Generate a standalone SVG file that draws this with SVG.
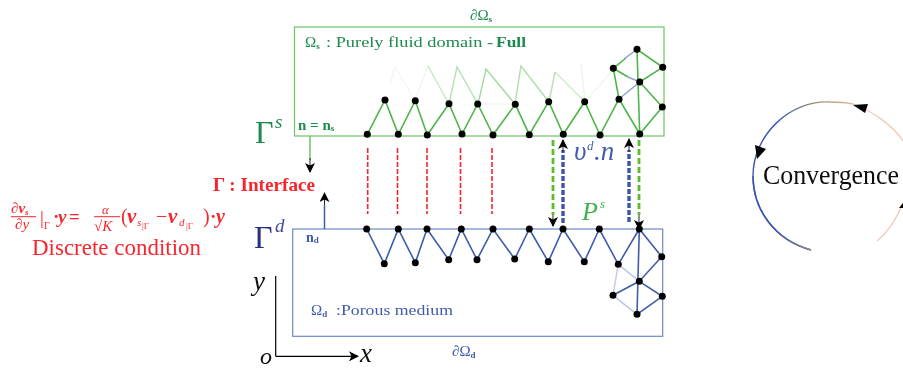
<svg xmlns="http://www.w3.org/2000/svg" width="903" height="370" viewBox="0 0 903 370">
<style>
text{font-family:"Liberation Serif","DejaVu Serif",serif}
.dot{fill:#000}
.gm{fill:none;stroke:#4db549;stroke-width:1.6}
.bm{fill:none;stroke:#3f5cab;stroke-width:1.6}
.red{stroke:#f0252f;stroke-width:1.6;stroke-dasharray:5 2;fill:none}
.gd{stroke:#5dbb2f;stroke-width:2.8;stroke-dasharray:6 3;fill:none}
.bd{stroke:#3a55ad;stroke-width:3.4;stroke-dasharray:5 2;fill:none}
.dg{fill:#1f8a50}.db{fill:#3f5cab}.r{fill:#f5282f}
</style>
<defs>
<filter id="soft" x="0" y="0" width="100%" height="100%"><feGaussianBlur stdDeviation="0.35"/></filter>
<linearGradient id="arcTop" gradientUnits="userSpaceOnUse" x1="775" y1="125" x2="853" y2="104"><stop offset="0" stop-color="#3f55b0"/><stop offset=".55" stop-color="#8a9470"/><stop offset="1" stop-color="#e8b59d"/></linearGradient>
<linearGradient id="arcBot" gradientUnits="userSpaceOnUse" x1="775" y1="225" x2="811" y2="250"><stop offset="0" stop-color="#3f55b0"/><stop offset="1" stop-color="#8a8a80"/></linearGradient>
<marker id="ah" viewBox="0 0 10 10" refX="9" refY="5" markerWidth="12" markerHeight="10" markerUnits="userSpaceOnUse" orient="auto"><path d="M0 0L10 5L0 10L2.5 5Z" fill="#000"/></marker>
</defs>
<g filter="url(#soft)">
<g id="domain-fluid"><rect x="294.5" y="27" width="369.5" height="109" fill="none" stroke="#6cc565" stroke-width="1.2"/>
<text x="470" y="20" font-size="15" class="dg"><tspan font-style="italic">∂</tspan>Ω<tspan font-size="9" dy="2" font-weight="bold">s</tspan></text>
<text x="305" y="47" font-size="15" class="dg">Ω<tspan font-size="9" dy="2" font-weight="bold">s</tspan></text>
<text x="326" y="47" font-size="15.5" class="dg" textLength="167" lengthAdjust="spacingAndGlyphs">: Purely fluid domain -</text>
<text x="496" y="47" font-size="15.5" font-weight="bold" class="dg" textLength="30" lengthAdjust="spacingAndGlyphs">Full</text>
<text x="298" y="130" font-size="15" font-weight="bold" class="dg">n = n<tspan font-size="9" dy="1">s</tspan></text>
<text x="255" y="143" font-size="32" class="dg">Γ</text><text x="275" y="128" font-size="19" font-style="italic" class="dg">s</text></g>
<g id="domain-porous"><rect x="292.7" y="229" width="370" height="107.3" fill="none" stroke="#6f88c8" stroke-width="1.2"/>
<text x="306" y="242" font-size="14" font-weight="bold" class="db">n<tspan font-size="9" dy="1">d</tspan></text>
<text x="311" y="315" font-size="15" class="db">Ω<tspan font-size="9" dy="2" font-weight="bold">d</tspan></text>
<text x="336" y="315" font-size="15.5" class="db" textLength="117" lengthAdjust="spacingAndGlyphs">:Porous medium</text>
<text x="452" y="356" font-size="15" class="db"><tspan font-style="italic">∂</tspan>Ω<tspan font-size="9" dy="2" font-weight="bold">d</tspan></text>
<text x="254" y="248" font-size="32" fill="#2b2f7f">Γ</text><text x="275" y="232" font-size="19" font-style="italic" fill="#3f4a9a">d</text></g>
<g id="connectors">
<g id="mesh-fluid-faded" fill="none" stroke="#6cc565" stroke-width="1.4">
<path d="M390 84L395 67M395 67L412 95" stroke-opacity=".1"/>
<path d="M415 100L428 66" stroke-opacity=".12"/>
<path d="M428 66L449 104" stroke-opacity=".4"/>
<path d="M449 104L457 67L478 104" stroke-opacity=".5"/>
<path d="M478 104L486 69L515 104" stroke-opacity=".65"/>
<path d="M515 104L521 66L549 102" stroke-opacity=".55"/>
<path d="M549 102L555 72" stroke-opacity=".5"/>
<path d="M555 72L585 102" stroke-opacity=".35"/>
<path d="M585 102L581 64" stroke-opacity=".15"/>
<path d="M585 102L613 70" stroke-opacity=".12"/>
<path d="M478 104L515 104" stroke-opacity=".1"/>
</g>
<path class="gm" d="M367.3 134.3L385 100L398.3 134.3L415.3 100.7L427.3 135L449 103.7L462 134L477.7 104L493 135L515.3 104.3L529.3 134.7L548.7 101.7L563.3 134.3L584.7 101.7L600 135L619 99L639.7 134L662.3 107L639.7 82L662.7 67.3L637 49.3L639.7 134M626 58L613.3 68.3L619 99M613.3 68.3L628 77"/>
<path d="M637 49.3L624 59M628 77L639.7 82M619 99L639.7 82" fill="none" stroke="#8ea3cf" stroke-width="1.5"/>
<path class="bm" d="M366.7 229L384.3 263.7L398.3 229L415.3 262.7L427 229L448.7 259.7L461.3 229L477 259.7L493 229L514.7 259L529.3 229L548.3 261.7L563 229L584.3 261.7L599.3 229L618.3 264.3L639.3 229L661.7 256.7L639.3 281.3L662.3 296.3L637 314.3L639.3 229M639.3 281.3L613 295.3"/>
<path d="M618.3 264.3L613 295.3" fill="none" stroke="#c5cdea" stroke-width="1.5"/>
<path d="M618.3 264.3L639.3 281.3M613 295.3L637 314.3" fill="none" stroke="#bcc6e4" stroke-width="1.5"/>
<path class="red" d="M367.7 148V214M397.5 148V214M427 148V214M460.5 148V214M492 148V214"/>
<path class="gd" d="M553 140V215"/><path class="gd" d="M639 140V215"/>
<path d="M553 215V226" stroke="#222" stroke-width="1" marker-end="url(#ah)"/>
<path d="M639 215V229" stroke="#222" stroke-width="1" marker-end="url(#ah)"/>
<path class="bd" d="M563 223V150"/><path class="bd" d="M629 222V150"/>
<path d="M563 152V140" stroke="#222" stroke-width="1" marker-end="url(#ah)"/>
<path d="M629 152V139" stroke="#222" stroke-width="1" marker-end="url(#ah)"/>
<path d="M310 136V160" stroke="#6cc565" stroke-width="1.5"/><path d="M310 158V172" stroke="#222" stroke-width="1" marker-end="url(#ah)"/>
<path d="M324.5 229V205" stroke="#3f5cab" stroke-width="1.5"/><path d="M324.5 205V193" stroke="#222" stroke-width="1" marker-end="url(#ah)"/>
<path d="M275.7 356.3V276M275.7 356.3H358" fill="none" stroke="#000" stroke-width="1.2" marker-end="url(#ah)"/>
<path d="M811 250C775 240 753 210 753 176C753 135 790 100 830 102C840 102 848 103 853 104" fill="none" stroke="url(#arcTop)" stroke-width="1.4"/>
<path d="M811 250C775 240 753 210 753 176" fill="none" stroke="url(#arcBot)" stroke-width="1.4"/>
<path d="M853 104C875 112 895 128 903 141M877 241C888 232 897 218 903 203" fill="none" stroke="#f0c9b5" stroke-width="1.3"/>
<path d="M766 149L757 159L755 145Z M853 105L868 104L865 113Z M903 203L899 208L903 208Z" fill="#000"/>
</g>
<g id="nodes-fluid" class="dot">
<circle cx="367.3" cy="134.3" r="3.5"/><circle cx="398.3" cy="134.3" r="3.5"/><circle cx="427.3" cy="135" r="3.5"/><circle cx="462" cy="134" r="3.5"/><circle cx="493" cy="135" r="3.5"/><circle cx="529.3" cy="134.7" r="3.5"/><circle cx="563.3" cy="134.3" r="3.5"/><circle cx="600" cy="135" r="3.5"/><circle cx="639.7" cy="134" r="3.5"/>
<circle cx="385" cy="100" r="3.5"/><circle cx="415.3" cy="100.7" r="3.5"/><circle cx="449" cy="103.7" r="3.5"/><circle cx="477.7" cy="104" r="3.5"/><circle cx="515.3" cy="104.3" r="3.5"/><circle cx="548.7" cy="101.7" r="3.5"/><circle cx="584.7" cy="101.7" r="3.5"/><circle cx="619" cy="99.3" r="3.5"/>
<circle cx="637" cy="49.3" r="3.5"/><circle cx="613.3" cy="68.3" r="3.5"/><circle cx="662.7" cy="67.3" r="3.5"/><circle cx="639.7" cy="82" r="3.5"/><circle cx="662.3" cy="107" r="3.5"/></g>
<g id="nodes-porous" class="dot">
<circle cx="366.7" cy="229" r="3.5"/><circle cx="398.3" cy="229" r="3.5"/><circle cx="427" cy="229" r="3.5"/><circle cx="461.3" cy="229" r="3.5"/><circle cx="493" cy="229" r="3.5"/><circle cx="529.3" cy="229" r="3.5"/><circle cx="563" cy="229" r="3.5"/><circle cx="599.3" cy="229" r="3.5"/><circle cx="639.3" cy="229" r="3.5"/>
<circle cx="384.3" cy="263.7" r="3.5"/><circle cx="415.3" cy="262.7" r="3.5"/><circle cx="448.7" cy="259.7" r="3.5"/><circle cx="477" cy="259.7" r="3.5"/><circle cx="514.7" cy="259" r="3.5"/><circle cx="548.3" cy="261.7" r="3.5"/><circle cx="584.3" cy="261.7" r="3.5"/><circle cx="618.3" cy="264.3" r="3.5"/>
<circle cx="661.7" cy="256.7" r="3.5"/><circle cx="639.3" cy="281.3" r="3.5"/><circle cx="613" cy="295.3" r="3.5"/><circle cx="662.3" cy="296.3" r="3.5"/><circle cx="637" cy="314.3" r="3.5"/></g>
<g id="labels-flow">
<text x="574" y="160" font-size="27" font-style="italic" fill="#3f5cab">υ</text><text x="587" y="150" font-size="13" font-style="italic" fill="#3f5cab">d</text><text x="594" y="160" font-size="27" font-style="italic" fill="#3f5cab">.n</text>
<text x="582" y="220" font-size="26" font-style="italic" fill="#3cb34a">P</text><text x="600" y="208" font-size="13" font-style="italic" fill="#3cb34a">s</text>
</g>
<g id="interface">
<text x="213" y="191" font-size="19" font-weight="bold" class="r" textLength="102" lengthAdjust="spacingAndGlyphs">Γ : Interface</text>
</g>
<g id="condition" class="r">
<text x="11" y="213" font-size="15" font-style="italic" font-weight="bold">∂v<tspan font-size="9" dy="2">s</tspan></text>
<path d="M11 216.7H36" stroke="#f5282f" stroke-width="1"/>
<text x="15" y="229" font-size="15" font-style="italic">∂y</text>
<text x="40" y="224" font-size="19">|</text><text x="44" y="229" font-size="10">Γ</text>
<text x="53" y="223" font-size="19" font-weight="bold">·</text><text x="58" y="223" font-size="19" font-style="italic" font-weight="bold">y</text><text x="69" y="223" font-size="19" font-weight="bold">=</text>
<text x="102" y="214" font-size="13" font-style="italic">α</text>
<path d="M94 216.7H120" stroke="#f5282f" stroke-width="1"/>
<text x="94" y="231" font-size="15">√<tspan font-style="italic">K</tspan></text>
<text x="121" y="223" font-size="20">(</text><text x="127" y="223" font-size="21" font-style="italic" font-weight="bold">v</text><text x="137" y="226" font-size="11" font-style="italic">s</text><text x="142" y="229" font-size="9">|Γ</text>
<text x="156" y="223" font-size="20">−</text>
<text x="168" y="223" font-size="21" font-style="italic" font-weight="bold">v</text><text x="179" y="226" font-size="11" font-style="italic">d</text><text x="186" y="229" font-size="9">|Γ</text>
<text x="203" y="223" font-size="20">)</text><text x="210" y="223" font-size="19" font-weight="bold">·</text><text x="216" y="223" font-size="20" font-style="italic" font-weight="bold">y</text>
<text x="32" y="255" font-size="23" textLength="169" lengthAdjust="spacingAndGlyphs">Discrete condition</text>
</g>
<g id="axes">
<text x="253" y="290" font-size="27" font-style="italic" fill="#111">y</text>
<text x="360" y="362" font-size="27" font-style="italic" fill="#111">x</text>
<text x="260" y="364" font-size="24" font-style="italic" fill="#111">o</text>
</g>
<g id="convergence"><text x="763" y="184" font-size="28" fill="#111" textLength="136" lengthAdjust="spacingAndGlyphs">Convergence</text></g>
</g>
</svg>
